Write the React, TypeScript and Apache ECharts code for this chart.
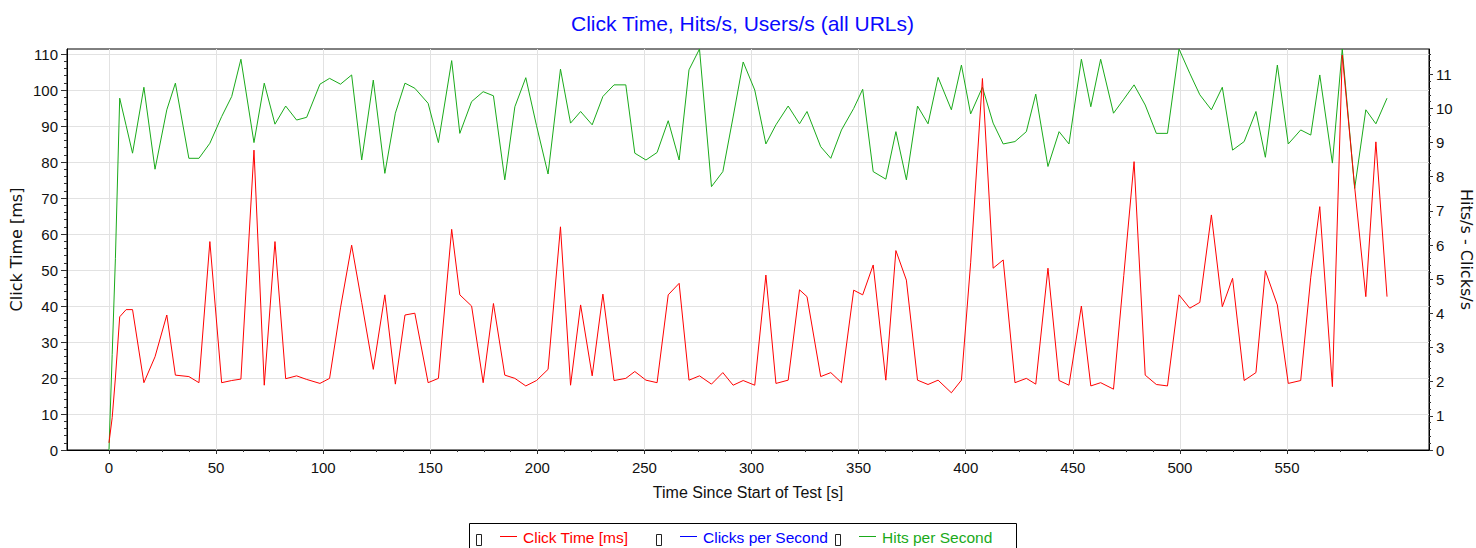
import React, { useEffect, useRef } from 'react';
import * as echarts from 'echarts';

// ---------- data ----------
const TITLE = 'Click Time, Hits/s, Users/s (all URLs)';
const X_NAME = 'Time Since Start of Test [s]';
const Y_LEFT_NAME = 'Click Time [ms]';
const Y_RIGHT_NAME = 'Hits/s - Clicks/s';
const LEGEND_NAMES = ['Click Time [ms]', 'Clicks per Second', 'Hits per Second'];
const LEGEND_COLORS = ['#ff0000', '#0000ff', '#1aaa1a'];

const timeSec = [
  0, 1.5, 3, 5, 8, 11, 16.3, 21.5, 27, 31, 37.3, 42, 47.1, 52.6, 57.3, 61.6, 67.7, 72.5, 77.5, 82.5,
  87.6, 92.3, 98.5, 103, 108.1, 113.3, 118, 123.4, 128.8, 133.7, 138.2, 142.8, 149, 153.8, 160, 163.8,
  169.3, 174.7, 179.5, 184.8, 189.5, 194.6, 199.6, 205, 210.8, 215.5, 220.2, 225.6, 230.6, 235.8, 241.3,
  245.5, 250.7, 255.9, 261.1, 266.2, 270.8, 275.7, 281.3, 286.6, 291.4, 296.1, 301.5, 306.7, 311.4,
  317.1, 322.4, 325.9, 332.3, 337, 342, 347.7, 351.9, 356.8, 362.7, 367.4, 372.3, 377.5, 382.4, 387.1,
  393.3, 398, 402.3, 407.8, 412.8, 417.5, 423, 428.3, 432.7, 438.4, 443.6, 448.2, 454, 458.4, 463, 469,
  473.8, 478.6, 483.8, 489, 494.2, 499.6, 504.6, 509.3, 514.7, 519.8, 524.6, 530, 535.5, 539.9, 545.5,
  550.6, 556.4, 561.1, 565.3, 571.2, 575.8, 581.6, 586.8, 591.5, 596.7,
];

const clickTimeMs = [
  2, 9, 20, 37, 39, 39, 18.7, 25.9, 37.5, 20.8, 20.4, 18.7, 57.9, 18.7, 19.3, 19.7, 83.3, 18.0, 57.9, 19.8,
  20.6, 19.6, 18.5, 19.9, 39.5, 56.9, 41, 22.4, 43.1, 18.3, 37.5, 38, 18.7, 19.9, 61.3, 43.1,
  40, 18.7, 40.7, 20.8, 19.9, 17.8, 19.3, 22.4, 62, 18.0, 40.3, 20.6, 43.3, 19.3, 19.9,
  21.8, 19.4, 18.7, 43.1, 46.3, 19.4, 20.6, 18.3, 21.5, 18.0, 19.3, 18.0, 48.6, 18.5,
  19.4, 44.5, 42.6, 20.4, 21.5, 18.7, 44.4, 43.1, 51.4, 19.4, 55.4, 47.2, 19.4, 18.2, 19.4,
  15.9, 19.4, 52, 103.2, 50.5, 52.8, 18.7, 19.9, 18.3, 50.5, 19.3, 18.0, 40, 17.8, 18.7, 16.9,
  48.5, 80.1, 20.8, 18.2, 17.8, 43.1, 39.4, 41, 65.3, 39.8, 47.7, 19.3, 21.5, 49.8, 40.3,
  18.5, 19.3, 48, 67.6, 17.6, 109.7, 73, 42.6, 85.6, 42.6,
];

const hitsPerSecond = [
  0, 2.8, 5.6, 10.3, 9.5, 8.69, 10.62, 8.22, 9.96, 10.74, 8.54, 8.54, 8.98, 9.76, 10.35, 11.44, 9.0, 10.74, 9.54, 10.07,
  9.66, 9.74, 10.71, 10.88, 10.71, 10.98, 8.49, 10.83, 8.1, 9.86, 10.74, 10.59, 10.15, 9.0, 11.4, 9.27,
  10.2, 10.49, 10.37, 7.91, 10.05, 10.9, 9.5, 8.08, 11.15, 9.57, 9.91, 9.52, 10.35, 10.69, 10.69,
  8.69, 8.49, 8.71, 9.64, 8.49, 11.13, 11.74, 7.71, 8.15, 9.75, 11.36, 10.54, 8.96, 9.52,
  10.07, 9.55, 9.91, 8.88, 8.54, 9.37, 10.0, 10.56, 8.15, 7.93, 9.32, 7.91, 10.07, 9.55, 10.91,
  9.96, 11.27, 9.84, 10.62, 9.57, 8.96, 9.03, 9.32, 10.42, 8.3, 9.32, 8.96, 11.44, 10.05, 11.44, 9.86,
  10.27, 10.69, 10.1, 9.27, 9.27, 11.74, 11.03, 10.4, 9.96, 10.62, 8.78, 9.03, 9.91, 8.57, 11.27,
  8.96, 9.37, 9.22, 10.98, 8.4, 11.74, 7.66, 9.96, 9.55, 10.3,
];

// "Clicks per Second" draws no visible line in the reference (legend entry only)
const clicksPerSecond: number[] = [];

// axis extents and tick values
const X_MIN = -19.6;
const X_MAX = 616.3;
const Y_LEFT_MAX = 111.4;
const Y_RIGHT_MAX = 11.74;
const xTickValues = [0, 50, 100, 150, 200, 250, 300, 350, 400, 450, 500, 550];
const xMinorTickValues = [
  12.5, 25, 37.5, 62.5, 75, 87.5, 112.5, 125, 137.5, 162.5, 175, 187.5, 212.5, 225, 237.5, 262.5, 275, 287.5,
  312.5, 325, 337.5, 362.5, 375, 387.5, 412.5, 425, 437.5, 462.5, 475, 487.5, 512.5, 525, 537.5, 562.5, 575, 587.5,
];
const yLeftTickValues = [0, 10, 20, 30, 40, 50, 60, 70, 80, 90, 100, 110];
const yRightTickValues = [0, 1, 2, 3, 4, 5, 6, 7, 8, 9, 10, 11];

const FONT = '"Liberation Sans", Arial, sans-serif';
const FONT_WIDE = '"DejaVu Sans", "Liberation Sans", sans-serif';

function minorValues(majors: number[], steps: number, max: number): number[] {
  const out: number[] = [];
  const step = (majors[1] - majors[0]) / steps;
  for (let i = 0; i < majors.length; i++) {
    for (let k = 1; k < steps; k++) {
      const v = +(majors[i] + k * step).toFixed(4);
      if (v < max) out.push(v);
    }
  }
  return out;
}

export default function App() {
  const ref = useRef<HTMLDivElement>(null);

  useEffect(() => {
    if (!ref.current) return;
    const chart = echarts.init(ref.current, undefined, { renderer: 'svg' });

    const pairs = (ys: number[]) => ys.map((y, i) => [timeSec[i], y]);

    const yLeftMinor = minorValues(yLeftTickValues, 5, Y_LEFT_MAX);
    const yRightMinor = minorValues(yRightTickValues, 5, Y_RIGHT_MAX);

    const tickLabelStyle = { fontFamily: FONT, fontSize: 15, color: '#111' };

    // legend drawn as graphic (boxed, as in the reference)
    const legendX = [476, 656, 835];
    const legendGraphic: any[] = [
      {
        type: 'rect',
        shape: { x: 469.5, y: 523.5, width: 547, height: 40 },
        style: { fill: '#fff', stroke: '#000', lineWidth: 1 },
        silent: true,
      },
    ];
    LEGEND_NAMES.forEach((name, i) => {
      const x0 = legendX[i];
      legendGraphic.push(
        {
          type: 'rect',
          shape: { x: x0 + 0.5, y: 534.5, width: 5, height: 11 },
          style: { fill: 'none', stroke: '#222', lineWidth: 1 },
          silent: true,
        },
        {
          type: 'line',
          shape: { x1: x0 + 24, y1: 536.5, x2: x0 + 41, y2: 536.5 },
          style: { stroke: LEGEND_COLORS[i], lineWidth: 1 },
          silent: true,
        },
        {
          type: 'text',
          x: x0 + 47,
          y: 537,
          style: {
            text: name,
            fill: LEGEND_COLORS[i],
            font: `15.5px ${FONT}`,
            verticalAlign: 'middle',
            align: 'left',
          },
          silent: true,
        }
      );
    });

    const option: any = {
      animation: false,
      backgroundColor: '#ffffff',
      textStyle: { fontFamily: FONT },
      title: {
        text: TITLE,
        left: 571,
        top: 13,
        padding: 0,
        textStyle: { color: '#0a0aff', fontFamily: FONT, fontSize: 21, fontWeight: 'normal' },
      },
      grid: {
        left: 67,
        right: 47,
        top: 49,
        bottom: 98,
        show: true,
        borderColor: '#000',
        borderWidth: 1,
        backgroundColor: 'transparent',
        containLabel: false,
        outerBoundsMode: 'none',
      },
      xAxis: [
        {
          type: 'value',
          min: X_MIN,
          max: X_MAX,
          position: 'bottom',
          name: X_NAME,
          nameLocation: 'middle',
          nameGap: 34,
          nameTextStyle: { fontFamily: FONT, fontSize: 16, color: '#111' },
          axisLine: { show: true, onZero: false, lineStyle: { color: '#000', width: 1 } },
          axisTick: { show: true, customValues: xTickValues, length: 4, lineStyle: { color: '#333' } },
          axisLabel: { show: true, customValues: xTickValues, margin: 10, ...tickLabelStyle },
          splitLine: { show: true, lineStyle: { color: '#e2e2e2', width: 1 } },
        },
        {
          type: 'value',
          min: X_MIN,
          max: X_MAX,
          position: 'bottom',
          axisLine: { show: false, onZero: false },
          axisTick: { show: true, customValues: xMinorTickValues, length: 2, lineStyle: { color: '#333' } },
          axisLabel: { show: false },
          splitLine: { show: false },
        },
      ],
      yAxis: [
        {
          type: 'value',
          position: 'left',
          min: 0,
          max: Y_LEFT_MAX,
          interval: 10,
          name: Y_LEFT_NAME,
          nameLocation: 'middle',
          nameGap: 43,
          nameMoveOverlap: false,
          nameTextStyle: { fontFamily: FONT_WIDE, fontSize: 16, color: '#111' },
          axisLine: { show: true, onZero: false, lineStyle: { color: '#000', width: 1 } },
          axisTick: { show: true, customValues: yLeftTickValues, length: 6, lineStyle: { color: '#333' } },
          axisLabel: { show: true, customValues: yLeftTickValues, margin: 9, ...tickLabelStyle },
          splitLine: { show: true, lineStyle: { color: '#e2e2e2', width: 1 } },
        },
        {
          type: 'value',
          position: 'right',
          min: 0,
          max: Y_RIGHT_MAX,
          interval: 1,
          name: Y_RIGHT_NAME,
          nameLocation: 'middle',
          nameRotate: -90,
          nameGap: 29,
          nameMoveOverlap: false,
          nameTextStyle: { fontFamily: FONT_WIDE, fontSize: 16, color: '#111' },
          axisLine: { show: true, onZero: false, lineStyle: { color: '#000', width: 1 } },
          axisTick: { show: true, customValues: yRightTickValues, length: 4, lineStyle: { color: '#333' } },
          axisLabel: { show: true, customValues: yRightTickValues, margin: 7, ...tickLabelStyle },
          splitLine: { show: false },
        },
        {
          type: 'value',
          position: 'left',
          min: 0,
          max: Y_LEFT_MAX,
          axisLine: { show: false, onZero: false },
          axisTick: { show: true, customValues: yLeftMinor, length: 3, lineStyle: { color: '#333' } },
          axisLabel: { show: false },
          splitLine: { show: false },
        },
        {
          type: 'value',
          position: 'right',
          min: 0,
          max: Y_RIGHT_MAX,
          axisLine: { show: false, onZero: false },
          axisTick: { show: true, customValues: yRightMinor, length: 2, lineStyle: { color: '#333' } },
          axisLabel: { show: false },
          splitLine: { show: false },
        },
      ],
      series: [
        {
          name: LEGEND_NAMES[1],
          type: 'line',
          xAxisIndex: 0,
          yAxisIndex: 1,
          data: pairs(clicksPerSecond),
          showSymbol: false,
          symbol: 'none',
          lineStyle: { color: LEGEND_COLORS[1], width: 1 },
          z: 2,
        },
        {
          name: LEGEND_NAMES[2],
          type: 'line',
          xAxisIndex: 0,
          yAxisIndex: 1,
          data: pairs(hitsPerSecond),
          showSymbol: false,
          symbol: 'none',
          lineStyle: { color: LEGEND_COLORS[2], width: 1 },
          z: 3,
        },
        {
          name: LEGEND_NAMES[0],
          type: 'line',
          xAxisIndex: 0,
          yAxisIndex: 0,
          data: pairs(clickTimeMs),
          showSymbol: false,
          symbol: 'none',
          lineStyle: { color: LEGEND_COLORS[0], width: 1 },
          z: 4,
        },
      ],
      graphic: legendGraphic,
    };

    chart.setOption(option);
    return () => chart.dispose();
  }, []);

  return (
    <div
      ref={ref}
      style={{ position: 'absolute', left: 0, top: 0, width: 1476, height: 548, background: '#fff' }}
    />
  );
}
